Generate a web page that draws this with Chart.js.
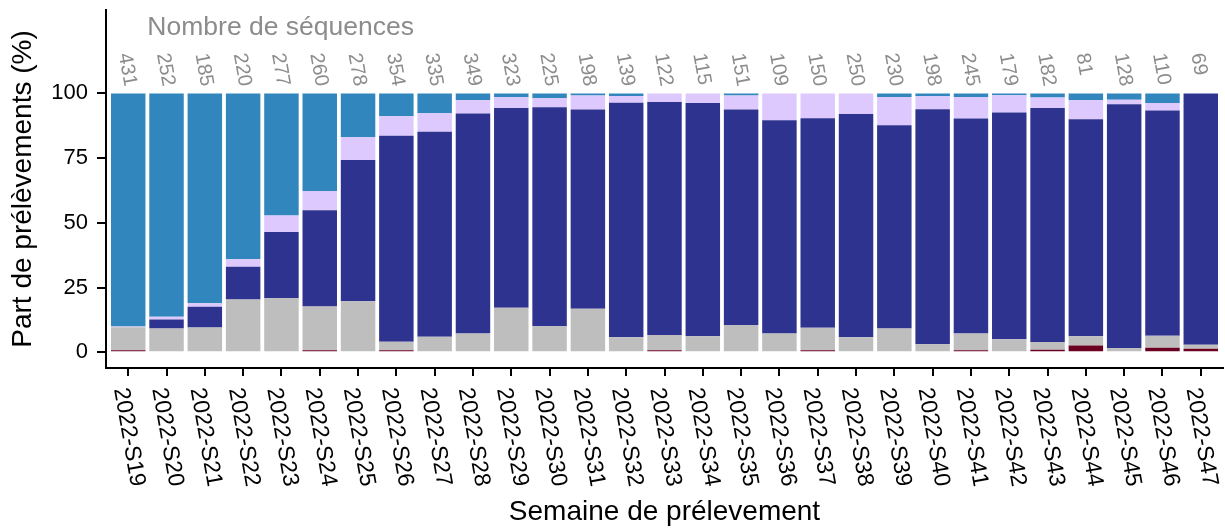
<!DOCTYPE html>
<html lang="fr">
<head>
<meta charset="utf-8">
<title>Part de prélèvements par semaine</title>
<script src="https://cdn.jsdelivr.net/npm/chart.js@4.4.1/dist/chart.umd.min.js"></script>
<style>
  html, body { margin: 0; padding: 0; background: #ffffff; }
  #wrap { width: 1225px; height: 529px; position: relative; }
</style>
</head>
<body>
<div id="wrap"><canvas id="chart"></canvas></div>
<script>
// Semaines de prélèvement
const weeks = ["2022-S19","2022-S20","2022-S21","2022-S22","2022-S23","2022-S24","2022-S25","2022-S26",
  "2022-S27","2022-S28","2022-S29","2022-S30","2022-S31","2022-S32","2022-S33","2022-S34","2022-S35",
  "2022-S36","2022-S37","2022-S38","2022-S39","2022-S40","2022-S41","2022-S42","2022-S43","2022-S44",
  "2022-S45","2022-S46","2022-S47"];

// Nombre de séquences par semaine
const seqCounts = [431,252,185,220,277,260,278,354,335,349,323,225,198,139,122,115,151,109,150,250,230,198,245,179,182,81,128,110,69];

// Parts (%) de chaque groupe, du bas vers le haut de la pile
const shareDarkRed  = [0.8,0,0,0,0.4,0.8,0,0.8,0,0,0,0,0,0,0.8,0,0,0,0.8,0.4,0,0,0.8,0.4,1.0,2.6,0,1.8,1.4];
const shareGrey     = [8.9,9.2,9.6,20.4,20.5,16.9,19.7,3.3,6.0,7.3,17.2,10.1,16.8,5.8,5.9,6.2,10.5,7.3,8.7,5.4,9.2,3.1,6.5,4.6,3.0,3.6,1.7,4.6,1.5];
const shareNavy     = [0,3.5,8.0,12.6,25.6,37.2,54.6,79.5,79.2,84.9,77.2,84.5,77.0,90.6,90.0,90.1,83.3,82.3,80.9,86.2,78.5,90.8,83.0,87.6,90.4,83.8,94.1,87.0,97.1];
const shareLavender = [0.3,1.0,1.3,2.9,6.3,7.4,8.8,7.6,7.1,5.1,4.1,3.5,5.4,2.6,3.3,3.7,5.4,10.4,9.6,8.0,10.9,5.0,8.3,6.7,4.0,7.3,1.7,2.9,0];
const shareBlue     = [90.0,86.3,81.1,64.1,47.2,37.7,16.9,8.8,7.7,2.7,1.5,1.9,0.8,1.0,0,0,0.8,0,0,0,1.4,1.1,1.4,0.7,1.6,2.7,2.5,3.7,0];

// Graduations de l'axe des ordonnées
const yTicks = [0, 25, 50, 75, 100];

const FONT = '"Liberation Sans", Arial, Helvetica, sans-serif';
const TEXT_GREY = '#8c8c8c';

const layers = [
  { name: 'rouge',   values: shareDarkRed,  color: '#6b0022' },
  { name: 'gris',    values: shareGrey,     color: '#bebebe' },
  { name: 'marine',  values: shareNavy,     color: '#2f3390' },
  { name: 'lavande', values: shareLavender, color: '#ddc9fd' },
  { name: 'bleu',    values: shareBlue,     color: '#3186bd' }
];

const datasets = layers.map(l => ({
  label: l.name,
  data: l.values.map((v, i) => ({ x: i, y: v })),
  backgroundColor: l.color,
  borderWidth: 0,
  barPercentage: 0.9,
  categoryPercentage: 1.0
}));

// Étiquettes inclinées : semaines sous l'axe, effectifs au-dessus des barres
const annotations = {
  id: 'annotations',
  afterDraw(chart) {
    const { ctx, chartArea, scales: { x, y } } = chart;
    const angle = 80 * Math.PI / 180;
    ctx.save();

    // semaines
    ctx.fillStyle = '#000000';
    ctx.font = '23px ' + FONT;
    ctx.textAlign = 'left';
    ctx.textBaseline = 'middle';
    weeks.forEach((w, i) => {
      const px = x.getPixelForValue(i);
      ctx.save();
      ctx.translate(px - 8, chartArea.bottom + 20);
      ctx.rotate(angle);
      ctx.fillText(w, 0, 0);
      ctx.restore();
    });

    // effectifs
    ctx.fillStyle = TEXT_GREY;
    ctx.font = '20px ' + FONT;
    seqCounts.forEach((n, i) => {
      const px = x.getPixelForValue(i);
      ctx.save();
      ctx.translate(px - 4, y.getPixelForValue(115.5));
      ctx.rotate(angle);
      ctx.fillText(String(n), 0, 0);
      ctx.restore();
    });

    // intitulé des effectifs
    ctx.font = '26.5px ' + FONT;
    ctx.textAlign = 'left';
    ctx.textBaseline = 'middle';
    ctx.fillText('Nombre de séquences', x.getPixelForValue(0.5), y.getPixelForValue(125.2));
    ctx.restore();
  }
};

new Chart(document.getElementById('chart'), {
  type: 'bar',
  data: { datasets },
  plugins: [annotations],
  options: {
    responsive: true,
    maintainAspectRatio: false,
    animation: false,
    devicePixelRatio: 1,
    layout: { padding: { top: 10, right: 2, left: 0, bottom: 0 } },
    plugins: { legend: { display: false }, tooltip: { enabled: false } },
    scales: {
      x: {
        type: 'linear',
        stacked: true,
        offset: false,
        min: -0.58,
        max: 28.58,
        afterBuildTicks(scale) { scale.ticks = weeks.map((_, i) => ({ value: i })); },
        afterFit(scale) { scale.height = 161; scale.paddingLeft = 0; scale.paddingRight = 0; },
        ticks: { display: false },
        grid: { offset: false, drawOnChartArea: false, drawTicks: true, tickLength: 8, color: '#000000', lineWidth: 2 },
        border: { display: true, color: '#000000', width: 2 },
        title: {
          display: true,
          text: 'Semaine de prélevement',
          color: '#000000',
          font: { family: FONT, size: 28, lineHeight: 1.2 },
          padding: { top: 0, bottom: 0 }
        }
      },
      y: {
        stacked: true,
        min: -6.06,
        max: 132.2,
        afterBuildTicks(scale) { scale.ticks = yTicks.map(v => ({ value: v })); },
        afterFit(scale) { scale.width = 106; scale.paddingTop = 0; scale.paddingBottom = 0; },
        ticks: {
          color: '#000000',
          font: { family: FONT, size: 22 },
          padding: 9
        },
        grid: { drawOnChartArea: false, drawTicks: true, tickLength: 9, color: '#000000', lineWidth: 2 },
        border: { display: true, color: '#000000', width: 2 },
        title: {
          display: true,
          text: 'Part de prélèvements (%)',
          color: '#000000',
          font: { family: FONT, size: 28, lineHeight: 1.2 },
          padding: { top: 6, bottom: 0 }
        }
      }
    }
  }
});
</script>
</body>
</html>
